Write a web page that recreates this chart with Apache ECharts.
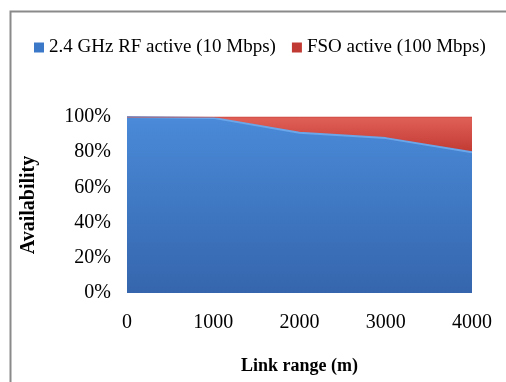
<!DOCTYPE html>
<html><head><meta charset="utf-8">
<script src="https://cdn.jsdelivr.net/npm/echarts@6/dist/echarts.min.js"></script>
<style>html,body{margin:0;padding:0;background:#fff}#c{width:506px;height:382px}</style>
</head><body><div id="c"></div>
<script>
var linkRange = ['0', '1000', '2000', '3000', '4000'];
var rfActive = [100, 99.5, 91, 88, 80];
var fsoActive = [0, 0.5, 9, 12, 20];
var seriesNames = ['2.4 GHz RF active (10 Mbps)', 'FSO active (100 Mbps)'];

var font = 'Liberation Serif';
var chart = echarts.init(document.getElementById('c'));
chart.setOption({
  animation: false,
  backgroundColor: '#fff',
  graphic: [
    {type:'rect', shape:{x:10.5,y:11.5,width:520,height:400}, style:{fill:null, stroke:'#8a8a8a', lineWidth:2}, z:-1}
  ],
  legend: {
    top: 33, left: 29, right: 0, itemWidth: 10, itemHeight: 10, itemGap: 16,
    icon: 'rect',
    textStyle: {fontFamily: font, fontSize: 19, color: '#000'},
    data: seriesNames
  },
  grid: {left: 127, right: 34, top: 117, bottom: 89},
  xAxis: {
    type: 'category', boundaryGap: false, data: linkRange,
    name: 'Link range (m)', nameLocation: 'middle', nameGap: 64,
    nameTextStyle: {fontFamily: font, fontSize: 18, fontWeight: 'bold', color: '#000'},
    axisLine: {show: false}, axisTick: {show: false}, splitLine: {show: false},
    axisLabel: {fontFamily: font, fontSize: 20, color: '#000', margin: 20}
  },
  yAxis: {
    type: 'value', min: 0, max: 100, interval: 20,
    name: 'Availability', nameLocation: 'middle', nameGap: 88, nameRotate: 90,
    nameTextStyle: {fontFamily: font, fontSize: 20, fontWeight: 'bold', color: '#000'},
    axisLine: {show: false}, axisTick: {show: false}, splitLine: {show: false},
    axisLabel: {fontFamily: font, fontSize: 20, color: '#000', margin: 16, formatter: '{value}%'}
  },
  series: [
    {
      name: seriesNames[0], type: 'line', stack: 'a', symbol: 'none',
      data: rfActive,
      lineStyle: {width: 2, color: '#6aa6ea'},
      itemStyle: {color: '#3c78c8'},
      areaStyle: {opacity: 1, color: new echarts.graphic.LinearGradient(0,0,0,1,[
        {offset:0, color:'#4a8ad8'},{offset:1, color:'#3566ad'}])}
    },
    {
      name: seriesNames[1], type: 'line', stack: 'a', symbol: 'none',
      data: fsoActive,
      lineStyle: {width: 1, color: '#c9443c'},
      itemStyle: {color: '#c03a33'},
      areaStyle: {opacity: 1, color: new echarts.graphic.LinearGradient(0,0,0,1,[
        {offset:0, color:'#e06058'},{offset:1, color:'#c13a32'}])}
    }
  ]
});
</script></body></html>
